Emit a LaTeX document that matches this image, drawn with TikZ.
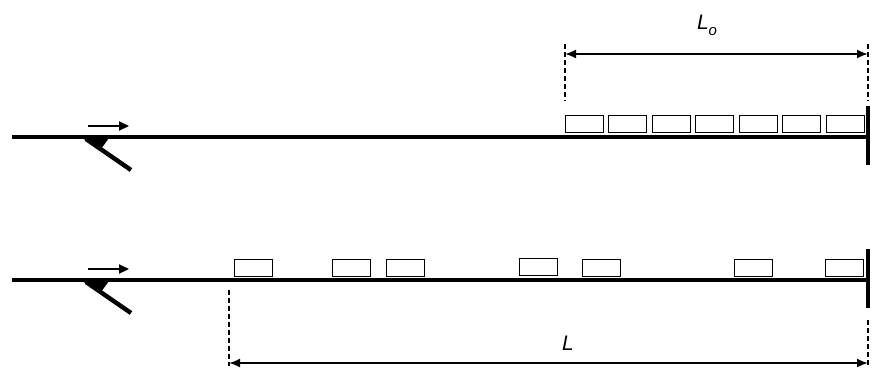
\documentclass[tikz,border=0pt]{standalone}
\usepackage{fontspec}
\setmainfont{Liberation Sans}
\usetikzlibrary{arrows.meta}
\tikzset{
  road/.style={line width=4.6pt},
  stopbar/.style={line width=3.4pt},
  car/.style={draw, line width=1.3pt, minimum width=38pt, minimum height=17pt,
    inner sep=0pt, anchor=north west},
  flow/.style={line width=2.2pt, -{Triangle[length=10pt,width=9pt]}},
  dim/.style={line width=1.8pt, {Latex[length=11pt,width=9pt]}-{Latex[length=11pt,width=9pt]}},
  ext/.style={line width=1.2pt, dash pattern=on 5pt off 3pt},
  lbl/.style={font=\fontsize{21}{21}\selectfont\itshape, inner sep=0pt}
}
\begin{document}
\begin{tikzpicture}[x=1pt,y=-1pt]
\useasboundingbox (0,0) rectangle (874,367);

% two approaches: road, stop bar, flow arrow and detector
\foreach \ry/\nm in {137/a,280/b}{
  \coordinate (\nm-start) at (12,\ry);
  \coordinate (\nm-stop) at (868,\ry);
  \draw[road] (\nm-start) -- (\nm-stop);
  \draw[stopbar] (868,\ry-31) -- (868,\ry+28);
  \coordinate (\nm-fa) at (88,\ry-11);
  \coordinate (\nm-fb) at (129,\ry-11);
  \draw[flow] (\nm-fa) -- (\nm-fb);
  % loop detector
  \fill (82,\ry+1) -- (109,\ry+1) -- (101,\ry+12) -- cycle;
  \draw[line width=4.4pt] (86,\ry+2) -- (131,\ry+33);
}

% queued vehicles (top)
\foreach \x [count=\i] in {565,608,652,695,739,782,826}
  \node[car] (q\i) at (\x,115) {};

% dispersed vehicles (bottom)
\foreach \x/\y [count=\i] in {234/259,332/259,386/259,519/258,582/259,734/259,825/259}
  \node[car] (d\i) at (\x,\y) {};

% queue length L_o
\coordinate (lo1) at (565,44);
\coordinate (lo2) at (868,44);
\draw[ext] (lo1) -- (565,101);
\draw[ext] (lo2) -- (868,101);
\draw[dim] (565,54) -- (868,54);
\node[lbl, anchor=base] (Lo) at (707,29) {L\raisebox{-6pt}{\fontsize{15}{15}\selectfont o}};

% distance L
\coordinate (l1) at (229,290);
\coordinate (l2) at (868,320);
\draw[ext] (l1) -- (229,366);
\draw[ext] (l2) -- (868,366);
\draw[dim] (229,363) -- (868,363);
\node[lbl, anchor=base] (L) at (568,350) {L};
\end{tikzpicture}
\end{document}
